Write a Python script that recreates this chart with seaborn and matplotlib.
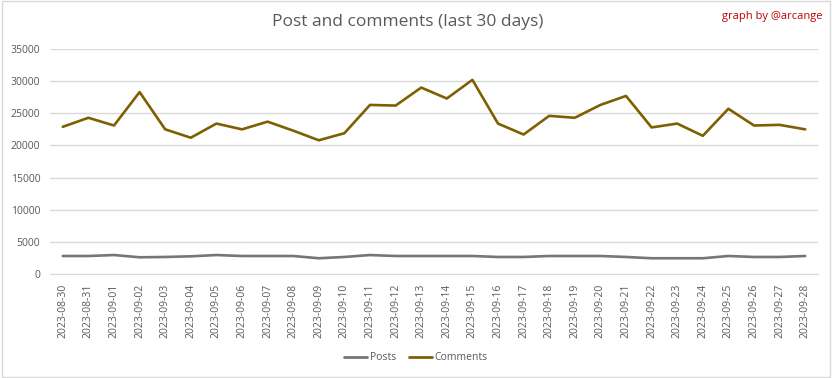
import pandas as pd
import matplotlib
matplotlib.use('Agg')
import matplotlib.pyplot as plt
import seaborn as sns

# Data
dates = [
    "2023-08-30", "2023-08-31", "2023-09-01", "2023-09-02", "2023-09-03",
    "2023-09-04", "2023-09-05", "2023-09-06", "2023-09-07", "2023-09-08",
    "2023-09-09", "2023-09-10", "2023-09-11", "2023-09-12", "2023-09-13",
    "2023-09-14", "2023-09-15", "2023-09-16", "2023-09-17", "2023-09-18",
    "2023-09-19", "2023-09-20", "2023-09-21", "2023-09-22", "2023-09-23",
    "2023-09-24", "2023-09-25", "2023-09-26", "2023-09-27", "2023-09-28",
]
posts = [2800, 2800, 2950, 2600, 2650, 2750, 2950, 2800, 2800, 2800,
         2450, 2650, 2950, 2800, 2800, 2800, 2800, 2650, 2650, 2800,
         2800, 2800, 2650, 2450, 2450, 2450, 2800, 2650, 2650, 2800]
comments = [22900, 24300, 23100, 28300, 22500, 21200, 23400, 22500, 23700, 22300,
            20800, 21900, 26300, 26200, 29000, 27300, 30200, 23400, 21700, 24600,
            24300, 26300, 27700, 22800, 23400, 21500, 25700, 23100, 23200, 22500]

df = pd.DataFrame({'Date': dates, 'Posts': posts, 'Comments': comments})
long_df = df.melt(id_vars='Date', var_name='Series', value_name='Count')
long_df['x'] = long_df.groupby('Series').cumcount()

sns.set_style('white')
plt.rcParams['font.family'] = ['Open Sans', 'DejaVu Sans']

fig = plt.figure(figsize=(8.32, 3.78), dpi=100)
ax = fig.add_axes([50 / 832, 1 - 274 / 378, 768 / 832, 225 / 378])

palette = {'Posts': '#767676', 'Comments': '#7F6000'}
sns.lineplot(data=long_df, x='x', y='Count', hue='Series', palette=palette,
             linewidth=1.9, ax=ax, legend=False)

ax.set_xlim(-0.5, len(dates) - 0.5)
ax.set_ylim(0, 35000)
ax.set_yticks(range(0, 35001, 5000))
ax.set_xticks(range(len(dates)))
ax.set_xticklabels(dates, rotation=90)
ax.tick_params(axis='both', labelsize=7.5, colors='#595959', length=0)
ax.tick_params(axis='x', pad=7)
ax.tick_params(axis='y', pad=7)
ax.set_xlabel('')
ax.set_ylabel('')
ax.grid(axis='y', color='#D9D9D9', linewidth=1)
ax.set_axisbelow(True)
for side in ['top', 'right', 'left']:
    ax.spines[side].set_visible(False)
ax.spines['bottom'].set_color('#D9D9D9')

fig.text(0.49, 1 - 22 / 378, 'Post and comments (last 30 days)', ha='center', va='center',
         fontsize=12.5, color='#595959')
fig.text(822 / 832, 1 - 16 / 378, 'graph by @arcange', ha='right', va='center',
         fontsize=8, color='#C00000')

handles = [plt.Line2D([], [], color=palette[s], linewidth=2) for s in ['Posts', 'Comments']]
fig.legend(handles, ['Posts', 'Comments'], loc='center', bbox_to_anchor=(0.5, 1 - 358 / 378),
           ncol=2, frameon=False, fontsize=7.5, labelcolor='#595959', handlelength=2.2,
           handletextpad=0.3, columnspacing=1.2)

# light border around the figure
border = plt.Rectangle((0.002, 0.003), 0.996, 0.994, transform=fig.transFigure,
                       fill=False, edgecolor='#D9D9D9', linewidth=1)
fig.patches.append(border)

fig.savefig('out.png', dpi=100)
